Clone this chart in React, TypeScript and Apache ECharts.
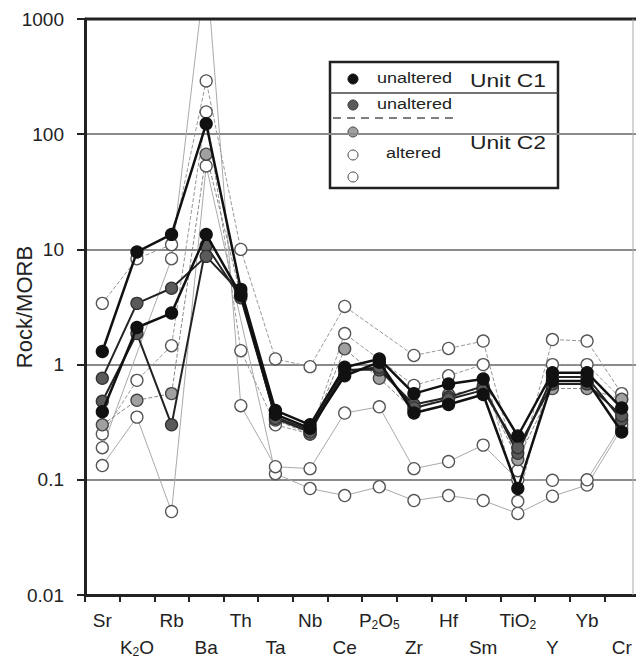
import React, { useEffect, useRef } from "react";
import * as echarts from "echarts";

const categories = ["Sr", "K2O", "Rb", "Ba", "Th", "Ta", "Nb", "Ce", "P2O5", "Zr", "Hf", "Sm", "TiO2", "Y", "Yb", "Cr"];
const yTicks = [0.01, 0.1, 1, 10, 100, 1000];

// Unit C1 unaltered
const c1a = [1.3, 9.5, 13.5, 123, 4.5, 0.4, 0.3, 0.95, 1.12, 0.56, 0.68, 0.75, 0.24, 0.85, 0.85, 0.42];
const c1b = [0.39, 2.1, 2.8, 13.5, 4.0, 0.37, 0.28, 0.8, 1.05, 0.38, 0.45, 0.55, 0.084, 0.72, 0.72, 0.26];
// Unit C2 unaltered
const c2a = [0.76, 3.4, 4.6, 8.7, 4.2, 0.34, 0.26, 0.88, 0.95, 0.42, 0.5, 0.6, 0.19, 0.68, 0.68, 0.36];
const c2b = [0.48, 1.86, 0.3, 10.8, 3.8, 0.35, 0.27, 0.9, 0.9, 0.45, 0.52, 0.65, 0.17, 0.78, 0.78, 0.33];
// Unit C2 altered
const a1 = [0.3, 0.49, 0.56, 67, 4.0, 0.33, 0.25, 1.37, 0.76, 0.4, 0.55, 0.62, 0.15, 0.62, 0.62, 0.5];
const a2 = [3.4, 8.3, 11, 290, 10, 1.12, 0.96, 3.2, null, 1.2, 1.38, 1.6, 0.12, 1.65, 1.6, 0.56];
const a3 = [0.25, 0.73, 1.46, 156, 1.32, 0.3, 0.25, 1.86, null, 0.66, 0.8, 1.0, 0.065, 1.0, 1.0, 0.5];
const a4 = [0.19, null, 8.3, 3000, 0.44, 0.13, 0.125, 0.38, 0.43, 0.125, 0.144, 0.2, 0.1, 0.099, 0.1, 0.3];
const a5 = [0.133, 0.35, 0.053, 53, null, 0.113, 0.084, 0.073, 0.087, 0.066, 0.073, 0.066, 0.051, 0.072, 0.09, 0.28];

const labelRich = (v: string) => {
  const m = v.match(/^([A-Za-z]+)(\d)([A-Za-z]*)(\d?)$/);
  if (!m) return `{n|${v}}`;
  let s = `{n|${m[1]}}{s|${m[2]}}`;
  if (m[3]) s += `{n|${m[3]}}`;
  if (m[4]) s += `{s|${m[4]}}`;
  return s;
};

const rich = {
  n: { fontSize: 19, color: "#222", fontFamily: "Liberation Sans", lineHeight: 22 },
  s: { fontSize: 12, color: "#222", fontFamily: "Liberation Sans", verticalAlign: "bottom", lineHeight: 14, padding: [8, 0, 0, 0] },
};

function mk(name: string, data: (number | null)[], fill: string, line: any, z: number, border = "#333") {
  return {
    type: "line",
    name,
    data,
    xAxisIndex: 0,
    symbol: "circle",
    symbolSize: 12,
    connectNulls: true,
    z,
    lineStyle: line,
    itemStyle: { color: fill, borderColor: border, borderWidth: 1.3 },
    emphasis: { disabled: true },
  };
}

const legendText = (text: string, x: number, y: number, size: number) => ({
  type: "text",
  x,
  y,
  scaleX: 1.2,
  style: { text, fontSize: size, fontFamily: "Liberation Sans", fill: "#222", textVerticalAlign: "middle" },
});

export default function App() {
  const ref = useRef<HTMLDivElement>(null);
  useEffect(() => {
    const chart = echarts.init(ref.current!, null, { renderer: "svg" });
    const axisFont = { fontFamily: "Liberation Sans", color: "#222" };
    chart.setOption({
      animation: false,
      backgroundColor: "#fff",
      grid: { left: 85, right: -3, top: 19, bottom: 71, containLabel: false, outerBoundsMode: "none" },
      xAxis: [
        {
          type: "category",
          data: categories,
          position: "bottom",
          boundaryGap: true,
          axisLine: { lineStyle: { color: "#222", width: 3 } },
          axisTick: { show: true, inside: false, length: 7, interval: 0, lineStyle: { color: "#222", width: 2 } },
          axisLabel: { interval: (i: number) => i % 2 === 0, margin: 14, formatter: labelRich, rich },
          splitLine: { show: false },
        },
        {
          type: "category",
          data: categories,
          position: "bottom",
          offset: 27,
          boundaryGap: true,
          axisLine: { show: false },
          axisTick: { show: false },
          axisLabel: { interval: (i: number) => i % 2 === 1, margin: 14, formatter: labelRich, rich },
          splitLine: { show: false },
        },
      ],
      yAxis: {
        type: "log",
        logBase: 10,
        min: 0.01,
        max: 1000,
        name: "Rock/MORB",
        nameLocation: "middle",
        nameRotate: 90,
        nameGap: 50,
        nameMoveOverlap: false,
        nameTextStyle: { ...axisFont, fontSize: 22 },
        axisLine: { show: true, lineStyle: { color: "#222", width: 3 } },
        axisTick: { show: true, length: 8, lineStyle: { color: "#222", width: 2 } },
        axisLabel: { ...axisFont, fontSize: 19, margin: 21, formatter: (v: number) => String(yTicks.find((t) => Math.abs(t - v) / t < 1e-6) ?? v) },
        splitLine: { show: true, lineStyle: { color: "#8a8a8a", width: 2 } },
        minorTick: { show: false },
      },
      series: [
        mk("a5", a5, "#fff", { color: "#aaa", width: 1, type: "solid" }, 2, "#555"),
        mk("a4", a4, "#fff", { color: "#aaa", width: 1, type: "solid" }, 2, "#555"),
        mk("a3", a3, "#fff", { color: "#999", width: 1, type: "dashed" }, 2, "#555"),
        mk("a2", a2, "#fff", { color: "#999", width: 1, type: "dashed" }, 2, "#555"),
        mk("a1", a1, "#a0a0a0", { color: "#888", width: 1, type: "dashed" }, 2, "#444"),
        mk("c2b", c2b, "#5a5a5a", { color: "#222", width: 2, type: "solid" }, 3),
        mk("c2a", c2a, "#5a5a5a", { color: "#222", width: 2, type: "solid" }, 3),
        mk("c1b", c1b, "#111", { color: "#111", width: 2.5, type: "solid" }, 4, "#111"),
        mk("c1a", c1a, "#111", { color: "#111", width: 2.5, type: "solid" }, 4, "#111"),
      ],
      graphic: [
        { type: "line", z: 10, shape: { x1: 85, y1: 19, x2: 636, y2: 19 }, style: { stroke: "#222", lineWidth: 3 } },
        { type: "line", z: 10, shape: { x1: 633, y1: 19, x2: 633, y2: 595 }, style: { stroke: "#aaa", lineWidth: 1 } },
        {
          type: "group",
          z: 20,
          children: [
            { type: "rect", shape: { x: 330, y: 62, width: 228, height: 126 }, style: { fill: "#fff", stroke: "#222", lineWidth: 2.5 } },
            { type: "line", shape: { x1: 330, y1: 93, x2: 558, y2: 93 }, style: { stroke: "#444", lineWidth: 1.5 } },
            { type: "line", shape: { x1: 333, y1: 118, x2: 455, y2: 118 }, style: { stroke: "#555", lineWidth: 1.5, lineDash: [8, 6] } },
            { type: "circle", shape: { cx: 353, cy: 79, r: 5 }, style: { fill: "#111", stroke: "#111" } },
            { type: "circle", shape: { cx: 353, cy: 105, r: 5 }, style: { fill: "#5a5a5a", stroke: "#333", lineWidth: 1 } },
            { type: "circle", shape: { cx: 353, cy: 132, r: 5 }, style: { fill: "#a0a0a0", stroke: "#444", lineWidth: 1 } },
            { type: "circle", shape: { cx: 353, cy: 155, r: 5 }, style: { fill: "#fff", stroke: "#444", lineWidth: 1 } },
            { type: "circle", shape: { cx: 353, cy: 177, r: 5 }, style: { fill: "#fff", stroke: "#444", lineWidth: 1 } },
            legendText("unaltered", 377, 78, 15),
            legendText("unaltered", 377, 104, 15),
            legendText("altered", 386, 153, 15),
            legendText("Unit C1", 470, 80, 19),
            legendText("Unit C2", 470, 142, 19),
          ],
        },
      ],
    });
    return () => chart.dispose();
  }, []);
  return <div ref={ref} style={{ width: 636, height: 666, position: "absolute", left: 0, top: 0 }} />;
}
